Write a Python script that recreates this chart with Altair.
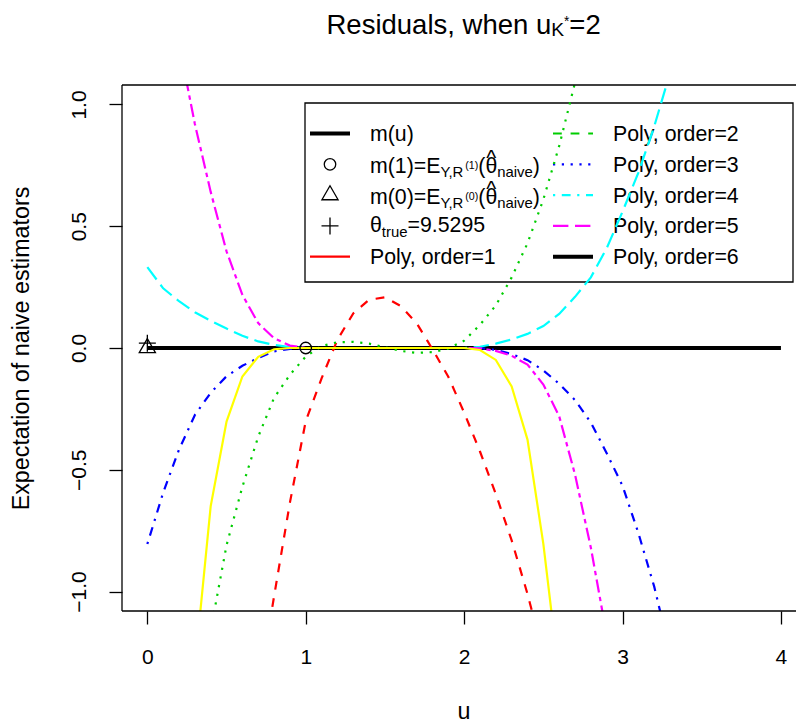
import altair as alt
import pandas as pd

FONT = "Liberation Sans"

# ---------------- data ----------------
U = [0.0, 0.1, 0.2, 0.3, 0.4, 0.5, 0.6, 0.7, 0.8, 0.9,
     1.0, 1.1, 1.2, 1.3, 1.4, 1.5, 1.6, 1.7, 1.8, 1.9,
     2.0, 2.1, 2.2, 2.3, 2.4, 2.5, 2.6, 2.7, 2.8, 2.9,
     3.0, 3.1, 3.2, 3.3, 3.4, 3.5, 3.6, 3.7, 3.8, 3.9, 4.0]

N = None
RED = [N, N, N, N, N, N, N, -1.42, -1.02, -0.635,
       -0.30, -0.125, 0.034, 0.142, 0.198, 0.208, 0.172, 0.102, -0.005, -0.118,
       -0.265, -0.425, -0.60, -0.79, -1.01, -1.26, N, N, N, N,
       N, N, N, N, N, N, N, N, N, N, N]
GREEN = [N, N, N, N, -1.16, -0.81, -0.57, -0.364, -0.205, -0.11,
         -0.035, 0.008, 0.024, 0.025, 0.018, 0.003, -0.012, -0.02, -0.017, -0.002,
         0.03, 0.095, 0.175, 0.29, 0.43, 0.61, 0.83, 1.09, 1.38, N,
         N, N, N, N, N, N, N, N, N, N, N]
BLUE = [-0.805, -0.594, -0.417, -0.275, -0.184, -0.116, -0.073, -0.041, -0.014, -0.004,
        0.0, 0.0, 0.0, 0.0, 0.0, 0.0, 0.0, 0.0, 0.0, 0.0,
        0.0, 0.0, -0.008, -0.025, -0.05, -0.092, -0.147, -0.214, -0.306, -0.432,
        -0.566, -0.76, -0.98, -1.25, N, N, N, N, N, N, N]
CYAN = [0.332, 0.245, 0.192, 0.147, 0.112, 0.08, 0.05, 0.027, 0.013, 0.004,
        0.0, 0.0, 0.0, 0.0, 0.0, 0.0, 0.0, 0.0, 0.0, 0.0,
        0.0, 0.005, 0.018, 0.035, 0.058, 0.09, 0.14, 0.21, 0.29, 0.41,
        0.56, 0.72, 0.91, 1.13, N, N, N, N, N, N, N]
MAGENTA = [N, N, 1.25, 0.92, 0.641, 0.397, 0.218, 0.102, 0.04, 0.01,
           0.0, 0.0, 0.0, 0.0, 0.0, 0.0, 0.0, 0.0, 0.0, 0.0,
           0.0, -0.001, -0.012, -0.032, -0.068, -0.15, -0.28, -0.52, -0.82, -1.18,
           N, N, N, N, N, N, N, N, N, N, N]
YELLOW = [N, N, N, -1.31, -0.649, -0.302, -0.117, -0.036, -0.005, 0.0,
          0.0, 0.0, 0.0, 0.0, 0.0, 0.0, 0.0, 0.0, 0.0, 0.0,
          0.0, -0.008, -0.049, -0.158, -0.376, -0.804, -1.35, N, N, N,
          N, N, N, N, N, N, N, N, N, N, N]

M_U_X = [0.0, 4.0]
M_U_Y = [0.0, 0.0]
PT_M1 = (1.0, 0.0)
PT_M0 = (0.0, 0.0)
PT_TRUE = (0.0, 0.02)

X_TICKS = [0, 1, 2, 3, 4]
Y_TICKS = [-1.0, -0.5, 0.0, 0.5, 1.0]
COL2_LABELS = ["Poly, order=2", "Poly, order=3", "Poly, order=4",
               "Poly, order=5", "Poly, order=6"]
THETA_TRUE = "9.5295"

# ---------------- layout ----------------
OX, OY = 122, 85
PW, PH = 674, 526
XDOM = [-0.16, -0.16 + PW / 158.4]
YDOM = [-1.08, 1.08]

W = {' ': 0.278, '(': 0.333, ')': 0.333, '*': 0.389, ',': 0.278, '.': 0.278,
     '=': 0.584, '^': 0.469, 'E': 0.667, 'K': 0.667, 'P': 0.667, 'R': 0.722,
     'Y': 0.667, 'a': 0.556, 'd': 0.556, 'e': 0.556, 'h': 0.556, 'i': 0.222,
     'l': 0.222, 'm': 0.833, 'n': 0.556, 'o': 0.556, 'r': 0.333, 's': 0.5,
     't': 0.278, 'u': 0.556, 'v': 0.5, 'w': 0.722, 'y': 0.5, 'θ': 0.556}


def tw(s, fs):
    return sum(W.get(c, 0.556) for c in s) * fs


TEXT = []


def runs(x0, base, parts):
    x = x0
    pos = []
    for t, fs, dy in parts:
        TEXT.append({"px": x - OX, "py": base + dy - OY, "txt": t, "fs": fs})
        pos.append(x)
        x += tw(t, fs)
    return pos


# title
T = 27.5
runs(326.5, 34, [("Residuals, when u", T, 0), ("K", 0.7 * T, 1.5),
                 ("*", 0.5 * T, -8), ("=2", T, 0)])

# legend
F = 21.3
S = 0.7 * F
SS = 0.5 * F
ROWS = [133.5, 164.3, 195.1, 225.9, 256.7]
C1X, C2X = 370, 613
runs(C1X, ROWS[0] + 7.5, [("m(u)", F, 0)])
for r, k in ((1, "1"), (2, "0")):
    b = ROWS[r] + 8.5
    p = runs(C1X, b, [("m(" + k + ")=E", F, 0), ("Y,R", S, 4.5), ("(" + k + ")", SS, -3.5),
                      ("(", F, 0), ("θ", F, 0), ("naive", S, 4.5), (")", F, 0)])
    hx = p[4] + (tw("θ", F) - tw("^", F)) / 2
    TEXT.append({"px": hx - OX, "py": b - 8 - OY, "txt": "^", "fs": F})
runs(C1X, ROWS[3] + 6.5, [("θ", F, 0), ("true", S, 4.5), ("=" + THETA_TRUE, F, 0)])
runs(C1X, ROWS[4] + 7.5, [("Poly, order=1", F, 0)])
for i, lab in enumerate(COL2_LABELS):
    runs(C2X, ROWS[i] + 7.5, [(lab, F, 0)])

text_df = pd.DataFrame(TEXT)

xscale = alt.Scale(domain=XDOM, nice=False, zero=False)
yscale = alt.Scale(domain=YDOM, nice=False, zero=False)
xaxis = alt.Axis(values=X_TICKS, format="d", title="u", tickSize=13, tickWidth=1.3,
                 labelPadding=39, labelBaseline="alphabetic", labelFontSize=21,
                 titleFontSize=23.3, titleX=341.5, titleY=107, titleAlign="center",
                 titleBaseline="alphabetic", labelFlush=False, labelOverlap=False)
yaxis = alt.Axis(values=Y_TICKS, format=".1f", title="Expectation of naive estimators",
                 tickSize=13, tickWidth=1.3, labelPadding=23.5, labelAngle=270,
                 labelAlign="center", labelBaseline="alphabetic", labelFontSize=21,
                 titleFontSize=23.3, titleX=-94, titleY=PH / 2, titleAngle=270,
                 titleAlign="center", titleBaseline="alphabetic",
                 labelFlush=False, labelOverlap=False)

LW = 2.2
DASHED = [8.8, 8.8]
DOTTED = [2.2, 6.6]
DOTDASH = [2.2, 6.6, 8.8, 6.6]
LONGDASH = [15.4, 6.6]
TWODASH = [4.4, 4.4, 13.2, 4.4]

TRI = "M0,-1L0.866,0.5L-0.866,0.5Z"
PLUS = "M-1,0L1,0M0,-1L0,1"


def px(v):
    return alt.X(v, scale=None)


def py(v):
    return alt.Y(v, scale=None)


layers = []

# legend box
box = pd.DataFrame({"x1": [305 - OX], "x2": [793 - OX], "y1": [103 - OY], "y2": [282 - OY]})
layers.append(alt.Chart(box).mark_rect(filled=False, stroke="black", strokeWidth=1.3).encode(
    x=px("x1:Q"), x2="x2:Q", y=py("y1:Q"), y2="y2:Q"))

# legend line samples
samples = [
    (310, ROWS[0], "black", None, 4.0),
    (310, ROWS[4], "red", None, LW),
    (553, ROWS[0], "#00CD00", DASHED, LW),
    (553, ROWS[1], "blue", DOTTED, LW),
    (553, ROWS[2], "cyan", DOTDASH, LW),
    (553, ROWS[3], "magenta", LONGDASH, LW),
    (553, ROWS[4], "black", None, 4.0),
]
for x0, yy, col, dash, w in samples:
    d = pd.DataFrame({"a": [x0 - OX], "b": [x0 + 40 - OX], "y": [yy - OY]})
    kw = dict(color=col, strokeWidth=w)
    if dash:
        kw["strokeDash"] = dash
    layers.append(alt.Chart(d).mark_rule(**kw).encode(x=px("a:Q"), x2="b:Q", y=py("y:Q")))

# legend symbols
for shape, size, yy in (("circle", 132, ROWS[1]), (TRI, 348, ROWS[2]), (PLUS, 289, ROWS[3])):
    d = pd.DataFrame({"x": [330 - OX], "y": [yy - OY]})
    layers.append(alt.Chart(d).mark_point(shape=shape, size=size, filled=False, color="black",
                                          strokeWidth=1.3, opacity=1).encode(
        x=px("x:Q"), y=py("y:Q")))

# texts (title + legend)
layers.append(alt.Chart(text_df).mark_text(align="left", baseline="alphabetic", font=FONT,
                                           color="black").encode(
    x=px("px:Q"), y=py("py:Q"), text="txt:N", size=alt.Size("fs:Q", scale=None)))


def series_layer(xs, ys, color, dash, width):
    d = pd.DataFrame({"u": xs, "v": ys}).dropna()
    kw = dict(color=color, strokeWidth=width, clip=True)
    if dash:
        kw["strokeDash"] = dash
    return alt.Chart(d).mark_line(**kw).encode(
        x=alt.X("u:Q", scale=xscale, axis=xaxis),
        y=alt.Y("v:Q", scale=yscale, axis=yaxis))


layers.append(series_layer(M_U_X, M_U_Y, "black", None, 4.0))
layers.append(series_layer(U, RED, "red", DASHED, LW))
layers.append(series_layer(U, GREEN, "#00CD00", DOTTED, LW))
layers.append(series_layer(U, BLUE, "blue", DOTDASH, LW))
layers.append(series_layer(U, CYAN, "cyan", LONGDASH, LW))
layers.append(series_layer(U, MAGENTA, "magenta", TWODASH, LW))
layers.append(series_layer(U, YELLOW, "yellow", None, LW))

for (xv, yv), shape, size in ((PT_M1, "circle", 132), (PT_M0, TRI, 348), (PT_TRUE, PLUS, 289)):
    d = pd.DataFrame({"u": [xv], "v": [yv]})
    layers.append(alt.Chart(d).mark_point(shape=shape, size=size, filled=False, color="black",
                                          strokeWidth=1.3, opacity=1).encode(
        x=alt.X("u:Q", scale=xscale, axis=xaxis), y=alt.Y("v:Q", scale=yscale, axis=yaxis)))

# frame (left, top, bottom)
fr = pd.DataFrame({"k": [0]})
layers.append(alt.Chart(fr).mark_rule(color="black", strokeWidth=1.3).encode(
    x=alt.value(0), y=alt.value(0), y2=alt.value(PH)))
layers.append(alt.Chart(fr).mark_rule(color="black", strokeWidth=1.3).encode(
    x=alt.value(0), x2=alt.value(PW + 10), y=alt.value(0)))
layers.append(alt.Chart(fr).mark_rule(color="black", strokeWidth=1.3).encode(
    x=alt.value(0), x2=alt.value(PW + 10), y=alt.value(PH)))

chart = alt.layer(*layers).properties(
    width=PW, height=PH,
    padding={"left": OX, "top": OY, "right": 0, "bottom": 721 - OY - PH},
    autosize=alt.AutoSizeParams(type="none"),
    background="white",
).configure_view(stroke=None).configure_axis(
    labelFont=FONT, titleFont=FONT, labelColor="black", titleColor="black",
    tickColor="black", grid=False, domain=False, titleFontWeight="normal",
)

chart.save("out.html", embed_options={"renderer": "svg", "actions": False})
